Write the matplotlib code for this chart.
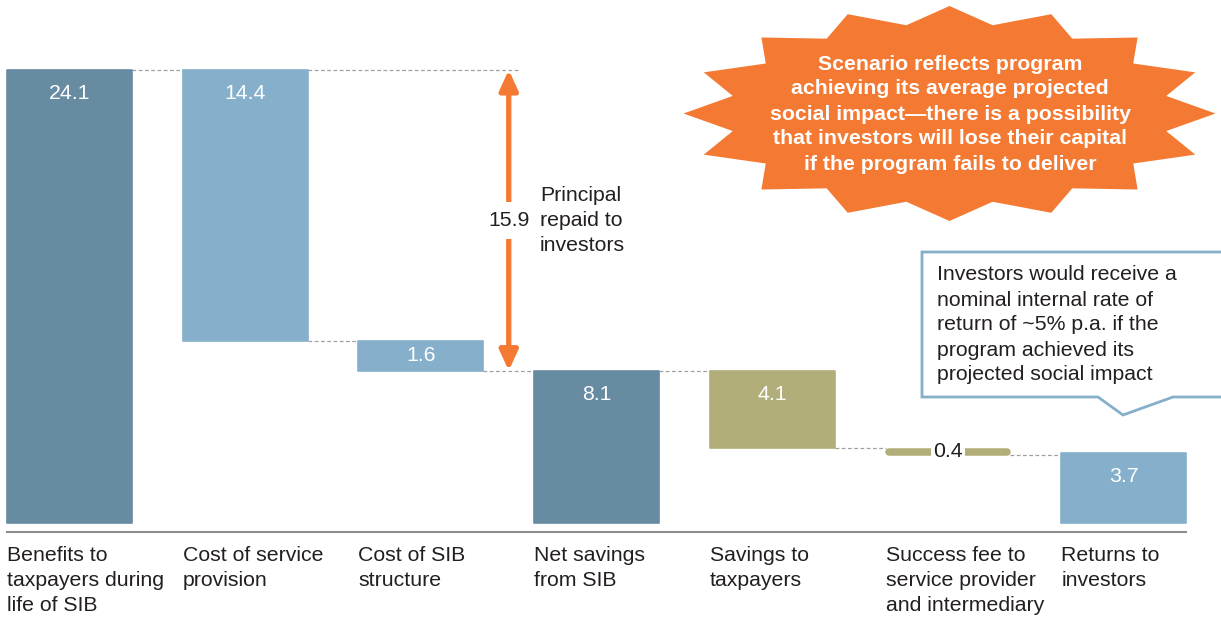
import numpy as np
import matplotlib
matplotlib.use("Agg")
import matplotlib.pyplot as plt
from matplotlib.patches import Polygon, FancyArrowPatch

plt.rcParams['font.family'] = ['Liberation Sans', 'DejaVu Sans']

# data
categories = ["Benefits to\ntaxpayers during\nlife of SIB",
              "Cost of service\nprovision",
              "Cost of SIB\nstructure",
              "Net savings\nfrom SIB",
              "Savings to\ntaxpayers",
              "Success fee to\nservice provider\nand intermediary",
              "Returns to\ninvestors"]
values = [24.1, 14.4, 1.6, 8.1, 4.1, 0.4, 3.7]
kinds = ["total", "decrease", "decrease", "total", "decrease", "decrease", "total"]
bar_colors = ["#678ba1", "#85afcb", "#85afcb", "#678ba1", "#b2ae7a", "#b2ae7a", "#85afcb"]
principal_repaid = 15.9

TEXT = "#231f20"
ORANGE = "#f47a33"
CALLOUT = "#85afcb"
FS = 15.3
LS = 1.4

W, H = 1221, 618
fig = plt.figure(figsize=(W / 100, H / 100), dpi=100)
ax = fig.add_axes([0, 0, 1, 1])

# pixel layout -> axis limits
step_px, px_unit = 175.7, 18.8
x0 = -69.5 / step_px
ax.set_xlim(x0, x0 + W / step_px)
ax.set_ylim(-(H - 523) / px_unit, 523 / px_unit)
ax.axis("off")

width = 125 / step_px
xs = np.arange(len(values))

# waterfall bottoms
bottoms, levels = [], []
level = 0.0
for v, k in zip(values, kinds):
    if k == "total":
        bottoms.append(0.0)
        level = v
    else:
        level -= v
        bottoms.append(level)
    levels.append(level)
bottoms = np.array(bottoms)
heights = np.array(values)

thin = [i for i, v in enumerate(values) if v < 1.0]
normal = [i for i in xs if i not in thin]

ax.bar(xs[normal], heights[normal], width, bottom=bottoms[normal],
       color=[bar_colors[i] for i in normal], edgecolor=[bar_colors[i] for i in normal],
       linewidth=1.2, joinstyle="round", zorder=3)

# tiny bar drawn as a rounded stroke with label in the middle
for i in thin:
    lw_pt = heights[i] * px_unit * 0.72
    cap = (lw_pt / 0.72 / 2) / step_px
    ax.plot([xs[i] - width / 2 + cap, xs[i] + width / 2 - cap],
            [bottoms[i] + heights[i] / 2] * 2, color=bar_colors[i], lw=lw_pt,
            solid_capstyle="round", zorder=3)
    ax.text(xs[i], bottoms[i] + heights[i] / 2, f"{values[i]}", ha="center", va="center",
            fontsize=FS, color=TEXT, zorder=4,
            bbox=dict(boxstyle="square,pad=0.1", fc="white", ec="none"))

# value labels
for i in normal:
    top = bottoms[i] + heights[i]
    y = max(top - 1.25, bottoms[i] + heights[i] / 2)
    ax.text(xs[i], y, f"{values[i]}", ha="center", va="center", fontsize=FS,
            color="white", zorder=4)

# connectors
for i in range(len(values) - 1):
    ax.plot([xs[i] + width / 2, xs[i + 1] - width / 2], [levels[i]] * 2, color="#a0a0a0",
            lw=0.9, ls=(0, (3, 2)), zorder=2)

# principal arrow between top of benefits and net savings
arrow_x = 2.5
ax.plot([xs[1] + width / 2, arrow_x + 0.06], [values[0]] * 2, color="#a0a0a0",
        lw=0.9, ls=(0, (3, 2)), zorder=2)
ax.add_patch(FancyArrowPatch((arrow_x, values[0]), (arrow_x, values[3]),
                             arrowstyle="<|-|>,head_length=12,head_width=5.5",
                             mutation_scale=1, lw=3.8, color=ORANGE,
                             shrinkA=0, shrinkB=0, zorder=3))
ymid = (values[0] + values[3]) / 2
ax.text(arrow_x, ymid, f"{principal_repaid}", ha="center", va="center",
        fontsize=FS, color=TEXT, zorder=5,
        bbox=dict(boxstyle="square,pad=0.42", fc="white", ec="none"))
ax.text(arrow_x + 0.178, ymid, "Principal\nrepaid to\ninvestors", ha="left",
        va="center", fontsize=FS, color=TEXT, linespacing=LS, zorder=6)

# baseline and category labels
ax.plot([xs[0] - width / 2, xs[-1] + width / 2], [-9 / px_unit] * 2, color="#8c8c8c",
        lw=1.5, zorder=2)
for i, lab in enumerate(categories):
    ax.text(xs[i] - width / 2, -23 / px_unit, lab, ha="left", va="top", fontsize=FS,
            color=TEXT, linespacing=LS)

# starburst note
cx, cy = 949.5, H - 113.5
t_out = np.deg2rad(np.arange(16) * 22.5)
t_in = t_out + np.deg2rad(11.25)
pts = []
for a, b in zip(t_out, t_in):
    pts.append((cx + 266 * np.cos(a), cy + 107.5 * np.sin(a)))
    pts.append((cx + 221 * np.cos(b), cy + 90 * np.sin(b)))
pts = [(px / W, py / H) for px, py in pts]
fig.patches.append(Polygon(pts, closed=True, fc=ORANGE, ec="none",
                           transform=fig.transFigure, figure=fig))
fig.text(950 / W, (H - 114) / H,
         "Scenario reflects program\nachieving its average projected\n"
         "social impact\u2014there is a possibility\nthat investors will lose their capital\n"
         "if the program fails to deliver",
         ha="center", va="center", fontsize=FS, fontweight="bold", color="white",
         linespacing=LS)

# callout box
box = [(922, 252), (1240, 252), (1240, 397), (1173, 397), (1123, 415), (1098, 397), (922, 397)]
box = [(px / W, (H - py) / H) for px, py in box]
fig.patches.append(Polygon(box, closed=True, fc="white", ec=CALLOUT, lw=2,
                           transform=fig.transFigure, figure=fig))
fig.text(937 / W, (H - 325) / H,
         "Investors would receive a\nnominal internal rate of\nreturn of ~5% p.a. if the\n"
         "program achieved its\nprojected social impact",
         ha="left", va="center", fontsize=FS, color=TEXT, linespacing=LS)

fig.savefig("out.png", dpi=100)
